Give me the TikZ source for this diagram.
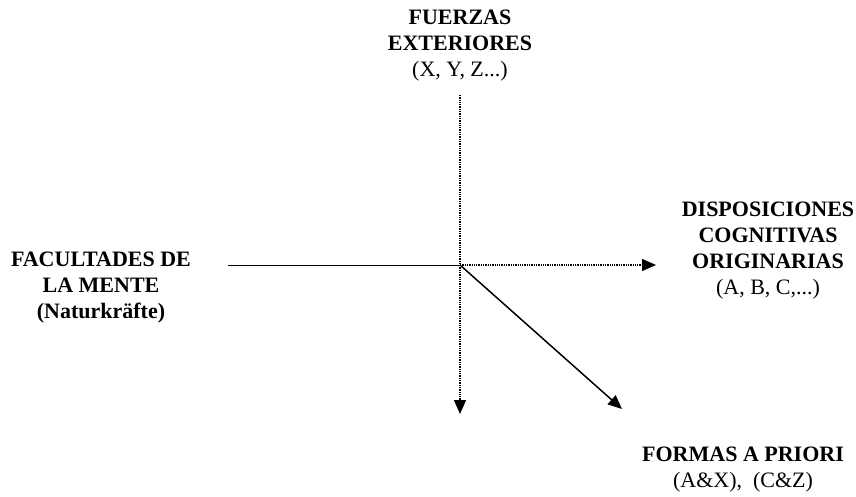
\documentclass[tikz,border=0pt]{standalone}
\usepackage{fontspec}
\setmainfont{Liberation Serif}
\usetikzlibrary{arrows.meta, positioning}

\begin{document}
\begin{tikzpicture}[x=1pt, y=-1pt,
  lbl/.style={align=center, font=\fontsize{22}{26}\selectfont\bfseries, inner sep=0pt},
  tip/.style={-{Triangle[length=14pt, width=12pt]}}]
\useasboundingbox (0,0) rectangle (856,497);

\node[lbl] (fuerzas) at (460,46) {FUERZAS\\EXTERIORES\\\mdseries(X, Y, Z...)};
\node[lbl] (facultades) at (101,288) {FACULTADES DE\\LA MENTE\\(Naturkr\"afte)};
\node[lbl] (disposiciones) at (768,251) {DISPOSICIONES\\COGNITIVAS\\ORIGINARIAS\\\mdseries(A, B, C,...)};
\node[lbl] (formas) at (743,470) {FORMAS A PRIORI\\\mdseries(A\&X),\ \ (C\&Z)};

\coordinate (c) at (460,265);
\coordinate (top) at (460,95);
\coordinate (bottom) at (460,414);
\coordinate (left) at (228,265);
\coordinate (right) at (656,265);
\coordinate (end) at (622,409);

\draw[line width=1pt] (left) -- (c);
\draw[densely dotted, line width=1.3pt] (top) -- (c);
\draw[tip, densely dotted, line width=1.3pt] (c) -- (bottom);
\draw[tip, densely dotted, line width=1.3pt] (c) -- (right);
\draw[tip, line width=1.5pt] (c) -- (end);
\end{tikzpicture}
\end{document}
